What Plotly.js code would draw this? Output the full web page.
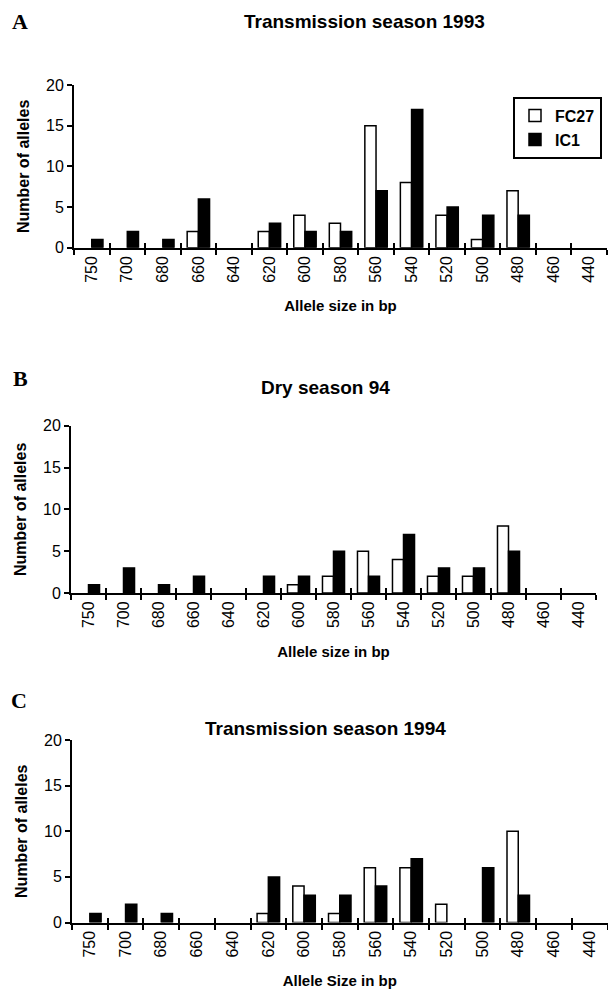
<!DOCTYPE html>
<html>
<head>
<meta charset="utf-8">
<script src="https://cdn.plot.ly/plotly-3.0.1.min.js"></script>
<style>html,body{margin:0;padding:0;background:#fff;}#chart{width:608px;height:989px;}</style>
</head>
<body>
<div id="chart"></div>
<script>
// Allele size categories (bp)
const categories = ['750','700','680','660','640','620','600','580','560','540','520','500','480','460','440'];

// A: Transmission season 1993
const fc27_1993 = [0,0,0,2,0,2,4,3,15,8,4,1,7,0,0];
const ic1_1993  = [1,2,1,6,0,3,2,2,7,17,5,4,4,0,0];
// B: Dry season 94
const fc27_dry94 = [0,0,0,0,0,0,1,2,5,4,2,2,8,0,0];
const ic1_dry94  = [1,3,1,2,0,2,2,5,2,7,3,3,5,0,0];
// C: Transmission season 1994
const fc27_1994 = [0,0,0,0,0,1,4,1,6,6,2,0,10,0,0];
const ic1_1994  = [1,2,1,0,0,5,3,3,4,7,0,6,3,0,0];

const seriesNames = ['FC27','IC1'];
const panelTitles = ['Transmission season 1993','Dry season 94','Transmission season 1994'];
const panelLetters = ['A','B','C'];
const xTitles = ['Allele size in bp','Allele size in bp','Allele Size in bp'];
const yTitle = 'Number of alleles';

const FONT = 'Arial, "Liberation Sans", Helvetica, sans-serif';
const SERIF = '"Times New Roman", "Liberation Serif", serif';

const W = 608, H = 989;
// panel geometry in px: [xLeft, xRight, yTop(20), yBottom(0)]
const geom = [
  [74, 607, 85, 247.7],
  [71, 596, 425.7, 593],
  [72, 607.5, 740, 922.5]
];

const data = [
  [fc27_1993, ic1_1993],
  [fc27_dry94, ic1_dry94],
  [fc27_1994, ic1_1994]
];

// zero counts are simply not drawn (no bar)
const noZero = arr => arr.map(v => (v === 0 ? null : v));

const traces = [];
data.forEach((pair, i) => {
  const xa = i === 0 ? 'x' : 'x' + (i + 1);
  const ya = i === 0 ? 'y' : 'y' + (i + 1);
  traces.push({
    type: 'bar', name: seriesNames[0], x: categories, y: noZero(pair[0]),
    xaxis: xa, yaxis: ya, legendgroup: 'fc', showlegend: i === 0,
    marker: {color: '#ffffff', line: {color: '#000000', width: 1.5}}
  });
  traces.push({
    type: 'bar', name: seriesNames[1], x: categories, y: noZero(pair[1]),
    xaxis: xa, yaxis: ya, legendgroup: 'ic', showlegend: i === 0,
    marker: {color: '#000000', line: {color: '#000000', width: 1.5}}
  });
});

const layout = {
  width: W, height: H,
  margin: {l: 0, r: 0, t: 0, b: 0},
  paper_bgcolor: '#ffffff', plot_bgcolor: 'rgba(0,0,0,0)',
  barmode: 'group', bargap: 0.37, bargroupgap: 0,
  font: {family: FONT, color: '#000000', size: 16},
  showlegend: true,
  legend: {
    x: 602 / W, xanchor: 'right', y: 1 - 96.7 / H, yanchor: 'top',
    bgcolor: '#ffffff', bordercolor: '#000000', borderwidth: 2,
    font: {family: FONT, size: 16, weight: 'bold'},
    itemwidth: 30, tracegroupgap: 0
  },
  annotations: [],
  hovermode: false
};

const titlePos = [[364, 22], [325, 388], [325, 728]];
const letterPos = [[20, 21], [20, 378], [19, 700]];

geom.forEach((g, i) => {
  const sfx = i === 0 ? '' : String(i + 1);
  const xdom = [g[0] / W, g[1] / W];
  const ydom = [1 - g[3] / H, 1 - g[2] / H];
  layout['xaxis' + sfx] = {
    domain: xdom, anchor: 'y' + sfx, type: 'category',
    categoryorder: 'array', categoryarray: categories,
    range: [-0.5, categories.length - 0.5],
    showline: true, linecolor: '#000', linewidth: 2,
    ticks: 'outside', ticklen: 5, tickwidth: 2, tickcolor: '#000',
    tickson: 'boundaries', tickangle: -90,
    tickfont: {family: FONT, size: 16},
    showgrid: false, zeroline: false, fixedrange: true,
    title: {text: xTitles[i], font: {family: FONT, size: 15, weight: 'bold'}, standoff: 19}
  };
  // overlay axis providing the inner half of the crossing tick marks
  const ovIdx = i + 4;
  layout['xaxis' + ovIdx] = {
    overlaying: 'x' + sfx, anchor: 'y' + sfx, type: 'category',
    categoryorder: 'array', categoryarray: categories,
    range: [-0.5, categories.length - 0.5],
    showline: false, ticks: 'inside', ticklen: 5, tickwidth: 2, tickcolor: '#000',
    tickson: 'boundaries', showticklabels: false, showgrid: false, zeroline: false,
    fixedrange: true
  };
  layout['yaxis' + sfx] = {
    domain: ydom, anchor: 'x' + sfx, range: [0, 20], dtick: 5, tick0: 0,
    showline: true, linecolor: '#000', linewidth: 2,
    ticks: 'outside', ticklen: 5, tickwidth: 2, tickcolor: '#000',
    tickfont: {family: FONT, size: 16},
    showgrid: false, zeroline: false, fixedrange: true,
    title: {text: yTitle, font: {family: FONT, size: 16, weight: 'bold'}, standoff: 12}
  };
  layout.annotations.push({
    xref: 'paper', yref: 'paper', x: titlePos[i][0] / W, y: 1 - titlePos[i][1] / H,
    xanchor: 'center', yanchor: 'middle', showarrow: false,
    text: '<b>' + panelTitles[i] + '</b>',
    font: {family: FONT, size: 19}
  });
  layout.annotations.push({
    xref: 'paper', yref: 'paper', x: letterPos[i][0] / W, y: 1 - letterPos[i][1] / H,
    xanchor: 'center', yanchor: 'middle', showarrow: false,
    text: '<b>' + panelLetters[i] + '</b>',
    font: {family: SERIF, size: 22}
  });
});

// invisible traces so the overlay tick axes carry the categories
[4,5,6].forEach((k, i) => {
  const sfx = i === 0 ? '' : String(i + 1);
  traces.push({
    type: 'scatter', mode: 'markers', x: categories, y: categories.map(() => null),
    xaxis: 'x' + k, yaxis: 'y' + sfx, showlegend: false, hoverinfo: 'skip',
    marker: {opacity: 0}
  });
});

Plotly.newPlot('chart', traces, layout, {staticPlot: true, displayModeBar: false});
</script>
</body>
</html>
